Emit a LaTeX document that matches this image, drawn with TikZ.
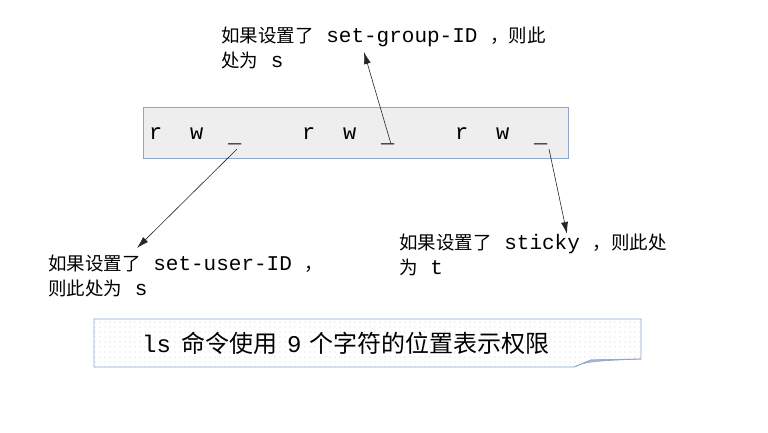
\documentclass[tikz,border=0pt]{standalone}
\usepackage{fontspec}
\setmonofont{Liberation Mono}
\newfontfamily\cjk{Noto Sans CJK SC}
\usetikzlibrary{arrows.meta,patterns.meta}
\definecolor{boxline}{HTML}{8DA6CC}
\definecolor{boxfill}{HTML}{EEEEEE}
\definecolor{foldfill}{HTML}{A9BBD6}
\tikzset{
  permch/.style={anchor=base west,inner sep=0pt,font=\fontsize{22}{22}\selectfont\ttfamily},
  lbl/.style={anchor=base west,inner sep=0pt,align=left,font=\fontsize{18.5}{25}\selectfont\cjk},
  pointer/.style={draw=black!85,line width=0.6pt,-{Latex[length=12pt,width=7pt]}},
}
\newcommand{\mt}[1]{{\fontsize{21}{21}\selectfont\ttfamily #1}}
\newcommand{\bt}[1]{{\fontsize{24}{24}\selectfont\ttfamily #1}}
\begin{document}
\begin{tikzpicture}[x=1pt,y=-1pt]
\useasboundingbox (0,0) rectangle (768,432);
% main box
\draw[boxline,fill=boxfill,line width=0.8pt] (143,107) rectangle (568,158);
\node[permch] (r1) at (149,139) {r};
\node[permch] (w1) at (190,139) {w};
\node[permch] (u1) at (228,142) {\_};
\node[permch] (r2) at (302,139) {r};
\node[permch] (w2) at (343,139) {w};
\node[permch] (u2) at (381,142) {\_};
\node[permch] (r3) at (455,139) {r};
\node[permch] (w3) at (496,139) {w};
\node[permch] (u3) at (534,142) {\_};
% labels
\node[lbl] (lg) at (221,67) {如果设置了\mt{~set-group-ID~}，则此\\处为\mt{~s}};
\node[lbl] (lu) at (48,295) {如果设置了\mt{~set-user-ID~}，\\则此处为\mt{~s}};
\node[lbl] (ls) at (399,274) {如果设置了\mt{~sticky~}，则此处\\为\mt{~t}};
% arrow endpoints
\coordinate (s1) at (237,149);
\coordinate (t1) at (137,248);
\coordinate (s2) at (391,144);
\coordinate (t2) at (364,52);
\coordinate (s3) at (549,149);
\coordinate (t3) at (567,234);
\draw[pointer] (s1) -- (t1);
\draw[pointer] (s2) -- (t2);
\draw[pointer] (s3) -- (t3);
% bottom note box with folded corner
\path[fill=white] (94,319) -- (641,319) -- (641,359) -- (591,360) -- (574,367) -- (94,367) -- cycle;
\path[pattern={Dots[distance=5pt,radius=0.45pt]},pattern color=black!45] (94,319) -- (641,319) -- (641,359) -- (591,360) -- (574,367) -- (94,367) -- cycle;
\draw[boxline,line width=0.8pt] (94,319) -- (641,319) -- (641,359) -- (591,360) -- (574,367) -- (94,367) -- cycle;
\draw[boxline,fill=foldfill,line width=0.6pt] (574,367) .. controls (585,362) and (590,361) .. (641,359) -- (591,360) -- cycle;
\node[anchor=base west,inner sep=0pt,font=\fontsize{24}{24}\selectfont\cjk] (note) at (142,352) {\bt{ls}\hspace{10pt}命令使用\hspace{10pt}\bt{9}\hspace{8pt}个字符的位置表示权限};
\end{tikzpicture}
\end{document}
